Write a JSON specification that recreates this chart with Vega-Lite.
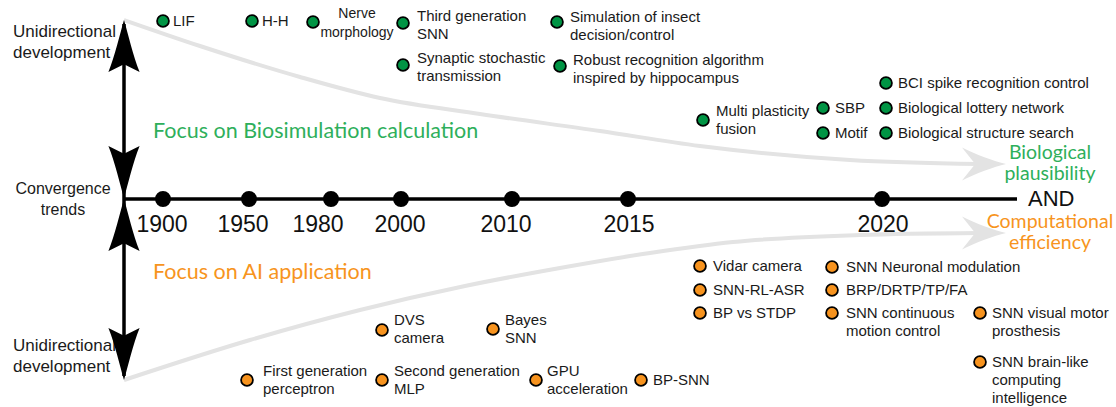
{
  "$schema": "https://vega.github.io/schema/vega-lite/v6.json",
  "width": 1116,
  "height": 407,
  "autosize": {"type": "none"},
  "padding": 0,
  "background": "white",
  "config": {"view": {"stroke": null}, "text": {"font": "Liberation Sans", "lineBreak": "\n"}},
  "datasets": {
    "curves": [
      {"c": "top", "x": 124, "y": 20}, {"c": "top", "x": 200, "y": 46}, {"c": "top", "x": 300, "y": 77},
      {"c": "top", "x": 380, "y": 98}, {"c": "top", "x": 480, "y": 114}, {"c": "top", "x": 600, "y": 131},
      {"c": "top", "x": 700, "y": 146}, {"c": "top", "x": 850, "y": 160}, {"c": "top", "x": 980, "y": 164},
      {"c": "bot", "x": 124, "y": 380}, {"c": "bot", "x": 250, "y": 340}, {"c": "bot", "x": 360, "y": 310},
      {"c": "bot", "x": 465, "y": 286}, {"c": "bot", "x": 560, "y": 268}, {"c": "bot", "x": 650, "y": 253},
      {"c": "bot", "x": 733, "y": 242}, {"c": "bot", "x": 860, "y": 235}, {"c": "bot", "x": 980, "y": 233}
    ],
    "grayheads": [
      {"x": 984, "y": 164, "dir": "right"},
      {"x": 984, "y": 233, "dir": "right"}
    ],
    "axisline": [{"x": 125, "x2": 1017, "y": 199}],
    "shaft": [{"x": 124, "y": 24, "y2": 376}],
    "arrows": [
      {"x": 124, "y": 46, "dir": "up"},
      {"x": 124, "y": 172, "dir": "down"},
      {"x": 124, "y": 225, "dir": "up"},
      {"x": 124, "y": 354, "dir": "down"}
    ],
    "years": [
      {"year": "1900", "x": 163, "lx": 162},
      {"year": "1950", "x": 249, "lx": 243},
      {"year": "1980", "x": 331, "lx": 318},
      {"year": "2000", "x": 401, "lx": 400},
      {"year": "2010", "x": 512, "lx": 506},
      {"year": "2015", "x": 628, "lx": 629},
      {"year": "2020", "x": 882, "lx": 883}
    ],
    "items": [
      {"label": "LIF", "g": "bio", "x": 163, "y": 21, "lx": 173, "ly": 21},
      {"label": "H-H", "g": "bio", "x": 252, "y": 21, "lx": 262, "ly": 21},
      {"label": "", "g": "bio", "x": 313, "y": 22, "lx": 325, "ly": 22},
      {"label": "Third generation\nSNN", "g": "bio", "x": 403, "y": 23, "lx": 417, "ly": 16},
      {"label": "Synaptic stochastic\ntransmission", "g": "bio", "x": 403, "y": 65, "lx": 417, "ly": 58},
      {"label": "Simulation of insect\ndecision/control", "g": "bio", "x": 557, "y": 22, "lx": 570, "ly": 17},
      {"label": "Robust recognition algorithm\ninspired by hippocampus", "g": "bio", "x": 560, "y": 66, "lx": 573, "ly": 60},
      {"label": "Multi plasticity\nfusion", "g": "bio", "x": 703, "y": 120, "lx": 716, "ly": 111},
      {"label": "SBP", "g": "bio", "x": 823, "y": 108, "lx": 835, "ly": 108},
      {"label": "Motif", "g": "bio", "x": 823, "y": 133, "lx": 835, "ly": 133},
      {"label": "BCI spike recognition control", "g": "bio", "x": 886, "y": 83, "lx": 898, "ly": 83},
      {"label": "Biological lottery network", "g": "bio", "x": 886, "y": 108, "lx": 898, "ly": 108},
      {"label": "Biological structure search", "g": "bio", "x": 886, "y": 133, "lx": 898, "ly": 133},
      {"label": "Vidar camera", "g": "ai", "x": 700, "y": 266, "lx": 713, "ly": 266},
      {"label": "SNN-RL-ASR", "g": "ai", "x": 700, "y": 290, "lx": 713, "ly": 290},
      {"label": "BP vs STDP", "g": "ai", "x": 700, "y": 313, "lx": 713, "ly": 313},
      {"label": "SNN Neuronal modulation", "g": "ai", "x": 832, "y": 267, "lx": 846, "ly": 267},
      {"label": "BRP/DRTP/TP/FA", "g": "ai", "x": 832, "y": 290, "lx": 846, "ly": 290},
      {"label": "SNN continuous\nmotion control", "g": "ai", "x": 832, "y": 313, "lx": 846, "ly": 313},
      {"label": "SNN visual motor\nprosthesis", "g": "ai", "x": 980, "y": 313, "lx": 992, "ly": 313},
      {"label": "SNN brain-like\ncomputing\nintelligence", "g": "ai", "x": 980, "y": 362, "lx": 992, "ly": 362},
      {"label": "DVS\ncamera", "g": "ai", "x": 382, "y": 330, "lx": 394, "ly": 320},
      {"label": "Bayes\nSNN", "g": "ai", "x": 493, "y": 329, "lx": 505, "ly": 320},
      {"label": "First generation\nperceptron", "g": "ai", "x": 247, "y": 380, "lx": 263, "ly": 371},
      {"label": "Second generation\nMLP", "g": "ai", "x": 382, "y": 380, "lx": 394, "ly": 371},
      {"label": "GPU\nacceleration", "g": "ai", "x": 536, "y": 380, "lx": 547, "ly": 371},
      {"label": "BP-SNN", "g": "ai", "x": 641, "y": 380, "lx": 653, "ly": 380}
    ],
    "centered": [
      {"label": "Nerve\nmorphology", "x": 357, "y": 14}
    ],
    "heads": [
      {"label": "Focus on Biosimulation calculation", "g": "bio", "x": 153, "y": 132},
      {"label": "Focus on AI application", "g": "ai", "x": 153, "y": 273}
    ],
    "ends": [
      {"label": "Biological\nplausibility", "g": "bio", "x": 1050, "y": 153},
      {"label": "Computational\nefficiency", "g": "ai", "x": 1050, "y": 222}
    ],
    "side": [
      {"label": "Unidirectional\ndevelopment", "x": 13, "y": 32},
      {"label": "Unidirectional\ndevelopment", "x": 13, "y": 346}
    ],
    "conv": [{"label": "Convergence\ntrends", "x": 63, "y": 189}],
    "andtext": [{"label": "AND", "x": 1028, "y": 199}]
  },
  "layer": [
    {
      "data": {"name": "curves"},
      "mark": {"type": "line", "interpolate": "monotone", "strokeWidth": 4, "color": "#e3e3e3"},
      "encoding": {
        "x": {"field": "x", "type": "quantitative", "scale": {"domain": [0, 1116], "nice": false, "zero": false}, "axis": null},
        "y": {"field": "y", "type": "quantitative", "scale": {"domain": [0, 407], "nice": false, "zero": false, "reverse": true}, "axis": null},
        "detail": {"field": "c"}
      }
    },
    {
      "data": {"name": "grayheads"},
      "mark": {"type": "point", "filled": true, "size": 1936, "color": "#e3e3e3", "opacity": 1},
      "encoding": {
        "x": {"field": "x", "type": "quantitative", "scale": {"domain": [0, 1116], "nice": false, "zero": false}, "axis": null},
        "y": {"field": "y", "type": "quantitative", "scale": {"domain": [0, 407], "nice": false, "zero": false, "reverse": true}, "axis": null},
        "shape": {"field": "dir", "type": "nominal", "legend": null, "scale": {"domain": ["up", "down", "right"], "range": ["M0,-1 C0.15,-0.5 0.35,0.4 0.6,1 L0,0.7 L-0.6,1 C-0.35,0.4 -0.15,-0.5 0,-1 Z", "M0,1 C0.15,0.5 0.35,-0.4 0.6,-1 L0,-0.7 L-0.6,-1 C-0.35,-0.4 -0.15,0.5 0,1 Z", "M1,0 C0.45,0.12 -0.4,0.45 -1,0.75 L-0.4,0 L-1,-0.75 C-0.4,-0.45 0.45,-0.12 1,0 Z"]}}
      }
    },
    {
      "data": {"name": "side"},
      "mark": {"type": "text", "align": "left", "baseline": "middle", "fontSize": 17, "lineHeight": 21, "color": "#1a1a1a"},
      "encoding": {
        "x": {"field": "x", "type": "quantitative", "scale": {"domain": [0, 1116], "nice": false, "zero": false}, "axis": null},
        "y": {"field": "y", "type": "quantitative", "scale": {"domain": [0, 407], "nice": false, "zero": false, "reverse": true}, "axis": null},
        "text": {"field": "label"}
      }
    },
    {
      "data": {"name": "conv"},
      "mark": {"type": "text", "align": "center", "baseline": "middle", "fontSize": 16, "lineHeight": 21, "color": "#1a1a1a"},
      "encoding": {
        "x": {"field": "x", "type": "quantitative", "scale": {"domain": [0, 1116], "nice": false, "zero": false}, "axis": null},
        "y": {"field": "y", "type": "quantitative", "scale": {"domain": [0, 407], "nice": false, "zero": false, "reverse": true}, "axis": null},
        "text": {"field": "label"}
      }
    },
    {
      "data": {"name": "axisline"},
      "mark": {"type": "rule", "strokeWidth": 3.5, "color": "black"},
      "encoding": {
        "x": {"field": "x", "type": "quantitative", "scale": {"domain": [0, 1116], "nice": false, "zero": false}, "axis": null},
        "x2": {"field": "x2"},
        "y": {"field": "y", "type": "quantitative", "scale": {"domain": [0, 407], "nice": false, "zero": false, "reverse": true}, "axis": null}
      }
    },
    {
      "data": {"name": "shaft"},
      "mark": {"type": "rule", "strokeWidth": 3.5, "color": "black"},
      "encoding": {
        "x": {"field": "x", "type": "quantitative", "scale": {"domain": [0, 1116], "nice": false, "zero": false}, "axis": null},
        "y": {"field": "y", "type": "quantitative", "scale": {"domain": [0, 407], "nice": false, "zero": false, "reverse": true}, "axis": null},
        "y2": {"field": "y2"}
      }
    },
    {
      "data": {"name": "arrows"},
      "mark": {"type": "point", "filled": true, "size": 2704, "color": "black", "opacity": 1},
      "encoding": {
        "x": {"field": "x", "type": "quantitative", "scale": {"domain": [0, 1116], "nice": false, "zero": false}, "axis": null},
        "y": {"field": "y", "type": "quantitative", "scale": {"domain": [0, 407], "nice": false, "zero": false, "reverse": true}, "axis": null},
        "shape": {"field": "dir", "type": "nominal", "legend": null, "scale": {"domain": ["up", "down", "right"], "range": ["M0,-1 C0.15,-0.5 0.35,0.4 0.6,1 L0,0.7 L-0.6,1 C-0.35,0.4 -0.15,-0.5 0,-1 Z", "M0,1 C0.15,0.5 0.35,-0.4 0.6,-1 L0,-0.7 L-0.6,-1 C-0.35,-0.4 -0.15,0.5 0,1 Z", "M1,0 C0.45,0.12 -0.4,0.45 -1,0.75 L-0.4,0 L-1,-0.75 C-0.4,-0.45 0.45,-0.12 1,0 Z"]}}
      }
    },
    {
      "data": {"name": "years"},
      "mark": {"type": "point", "filled": true, "size": 254, "color": "black", "opacity": 1},
      "encoding": {
        "x": {"field": "x", "type": "quantitative", "scale": {"domain": [0, 1116], "nice": false, "zero": false}, "axis": null},
        "y": {"datum": 199, "type": "quantitative", "scale": {"domain": [0, 407], "nice": false, "zero": false, "reverse": true}, "axis": null}
      }
    },
    {
      "data": {"name": "years"},
      "mark": {"type": "text", "align": "center", "baseline": "middle", "fontSize": 23, "color": "#111"},
      "encoding": {
        "x": {"field": "lx", "type": "quantitative", "scale": {"domain": [0, 1116], "nice": false, "zero": false}, "axis": null},
        "y": {"datum": 225, "type": "quantitative", "scale": {"domain": [0, 407], "nice": false, "zero": false, "reverse": true}, "axis": null},
        "text": {"field": "year"}
      }
    },
    {
      "data": {"name": "andtext"},
      "mark": {"type": "text", "align": "left", "baseline": "middle", "fontSize": 22, "color": "#111"},
      "encoding": {
        "x": {"field": "x", "type": "quantitative", "scale": {"domain": [0, 1116], "nice": false, "zero": false}, "axis": null},
        "y": {"field": "y", "type": "quantitative", "scale": {"domain": [0, 407], "nice": false, "zero": false, "reverse": true}, "axis": null},
        "text": {"field": "label"}
      }
    },
    {
      "data": {"name": "items"},
      "mark": {"type": "point", "filled": true, "size": 140, "stroke": "black", "strokeWidth": 1.8, "opacity": 1},
      "encoding": {
        "x": {"field": "x", "type": "quantitative", "scale": {"domain": [0, 1116], "nice": false, "zero": false}, "axis": null},
        "y": {"field": "y", "type": "quantitative", "scale": {"domain": [0, 407], "nice": false, "zero": false, "reverse": true}, "axis": null},
        "fill": {"field": "g", "type": "nominal", "legend": null, "scale": {"domain": ["bio", "ai"], "range": ["#009444", "#F7931E"]}}
      }
    },
    {
      "data": {"name": "items"},
      "mark": {"type": "text", "align": "left", "baseline": "middle", "fontSize": 15, "lineHeight": 18, "color": "#1a1a1a"},
      "encoding": {
        "x": {"field": "lx", "type": "quantitative", "scale": {"domain": [0, 1116], "nice": false, "zero": false}, "axis": null},
        "y": {"field": "ly", "type": "quantitative", "scale": {"domain": [0, 407], "nice": false, "zero": false, "reverse": true}, "axis": null},
        "text": {"field": "label"}
      }
    },
    {
      "data": {"name": "centered"},
      "mark": {"type": "text", "align": "center", "baseline": "middle", "fontSize": 14, "lineHeight": 19, "color": "#1a1a1a"},
      "encoding": {
        "x": {"field": "x", "type": "quantitative", "scale": {"domain": [0, 1116], "nice": false, "zero": false}, "axis": null},
        "y": {"field": "y", "type": "quantitative", "scale": {"domain": [0, 407], "nice": false, "zero": false, "reverse": true}, "axis": null},
        "text": {"field": "label"}
      }
    },
    {
      "data": {"name": "heads"},
      "mark": {"type": "text", "align": "left", "baseline": "middle", "fontSize": 21.5, "font": "Lato"},
      "encoding": {
        "x": {"field": "x", "type": "quantitative", "scale": {"domain": [0, 1116], "nice": false, "zero": false}, "axis": null},
        "y": {"field": "y", "type": "quantitative", "scale": {"domain": [0, 407], "nice": false, "zero": false, "reverse": true}, "axis": null},
        "text": {"field": "label"},
        "color": {"field": "g", "type": "nominal", "legend": null, "scale": {"domain": ["bio", "ai"], "range": ["#2EAF5B", "#F7941D"]}}
      }
    },
    {
      "data": {"name": "ends"},
      "mark": {"type": "text", "align": "center", "baseline": "middle", "fontSize": 19.5, "lineHeight": 21, "font": "Lato"},
      "encoding": {
        "x": {"field": "x", "type": "quantitative", "scale": {"domain": [0, 1116], "nice": false, "zero": false}, "axis": null},
        "y": {"field": "y", "type": "quantitative", "scale": {"domain": [0, 407], "nice": false, "zero": false, "reverse": true}, "axis": null},
        "text": {"field": "label"},
        "color": {"field": "g", "type": "nominal", "legend": null, "scale": {"domain": ["bio", "ai"], "range": ["#2EAF5B", "#F7941D"]}}
      }
    }
  ]
}
